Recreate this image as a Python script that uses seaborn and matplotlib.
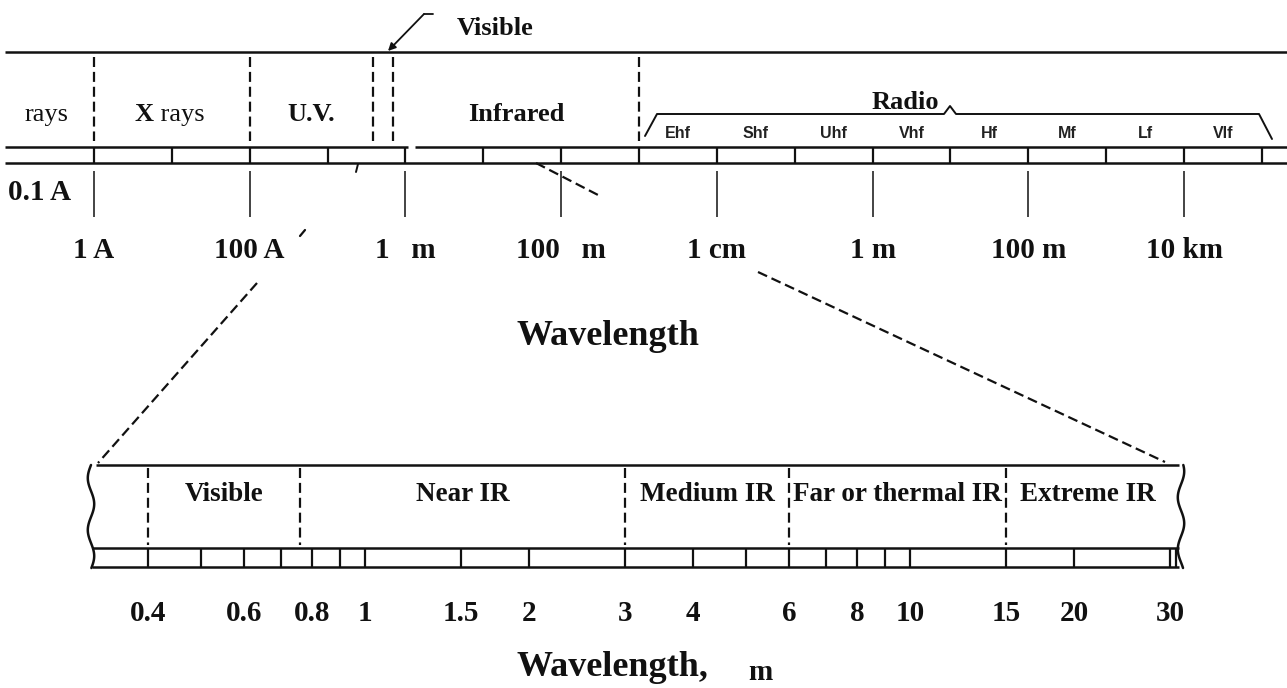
import numpy as np
import matplotlib
matplotlib.use("Agg")
import matplotlib.pyplot as plt
import seaborn as sns

# ---------------- data ----------------
top_regions = ["rays", "X rays", "U.V.", "Infrared"]
top_region_bounds_m = [1e-10, 1e-8, 3.8e-7, 7e-7, 1e-3]
radio_bands = ["Ehf", "Shf", "Uhf", "Vhf", "Hf", "Mf", "Lf", "Vlf"]
radio_band_edges_m = [1e-3, 1e-2, 1e-1, 1.0, 10.0, 100.0, 1e3, 1e4, 1e5]
top_divisions_m = [1e-10, 1e-9, 1e-8, 1e-7, 1e-6, 1e-5, 1e-4, 1e-3,
                   1e-2, 1e-1, 1.0, 10.0, 100.0, 1e3, 1e4, 1e5]
top_tick_values_m = [1e-10, 1e-8, 1e-6, 1e-4, 1e-2, 1.0, 100.0, 1e4]
top_tick_labels = ["1 A", "100 A", "1   m", "100   m", "1 cm", "1 m", "100 m", "10 km"]

ir_regions = ["Visible", "Near IR", "Medium IR", "Far or thermal IR", "Extreme IR"]
ir_region_bounds_um = [0.4, 0.76, 3.0, 6.0, 15.0, 30.0]
ir_divisions_um = [0.4, 0.5, 0.6, 0.7, 0.8, 0.9, 1.0, 1.5, 2.0, 3.0, 4.0, 5.0,
                   6.0, 7.0, 8.0, 9.0, 10.0, 15.0, 20.0, 30.0]
ir_tick_values_um = [0.4, 0.6, 0.8, 1.0, 1.5, 2.0, 3.0, 4.0, 6.0, 8.0, 10.0, 15.0, 20.0, 30.0]
ir_tick_labels = ["0.4", "0.6", "0.8", "1", "1.5", "2", "3", "4", "6", "8", "10", "15", "20", "30"]

# ---------------- style ----------------
sns.set_theme(style="white")
SERIF = ["Liberation Serif", "DejaVu Serif"]
SANS = ["Liberation Sans", "DejaVu Sans"]
plt.rcParams["font.family"] = SERIF
INK = "#111111"
DASH = (0, (4.5, 2.2))

W, H = 1287, 688
fig = plt.figure(figsize=(W / 100, H / 100), dpi=100)
fig.patch.set_facecolor("white")


def top_lam(px):
    return 10.0 ** ((px - 94.0) / 77.86 - 10.0)


def bot_um(px):
    return 10.0 ** ((px - 365.0) / 545.0)


def add_axes_px(x0, y0, x1, y1):
    a = fig.add_axes([x0 / W, 1 - y1 / H, (x1 - x0) / W, (y1 - y0) / H])
    a.set_xscale("log")
    a.axis("off")
    return a


# main axes (log wavelength in x, pixel rows in y)
ax = add_axes_px(0, 0, W, H)
ax.set_xlim(top_lam(0), top_lam(W))
ax.set_ylim(H, 0)
axb = add_axes_px(0, 0, W, H)
axb.set_xlim(bot_um(0), bot_um(W))
axb.set_ylim(H, 0)

# ================= TOP SPECTRUM =================
ax.hlines(52, top_lam(5), top_lam(W), color=INK, lw=1.8)
ax.hlines(147, top_lam(5), top_lam(408), color=INK, lw=1.8)
ax.hlines(147, top_lam(415), top_lam(W), color=INK, lw=1.8)
ax.hlines(163, top_lam(5), top_lam(W), color=INK, lw=1.8)

ts = add_axes_px(5, 147, W, 163)
ts.set_xlim(top_lam(5), top_lam(W))
ts.set_ylim(0, 1)
sns.rugplot(x=top_divisions_m, height=1.0, ax=ts, color=INK, linewidth=1.6,
            expand_margins=False)

# region boundaries
ax.vlines(top_region_bounds_m, 57, 141, color=INK, lw=1.6, linestyles=DASH)

# region labels (centred between the boundaries)
lows = [top_lam(0), top_region_bounds_m[0], top_region_bounds_m[1], top_region_bounds_m[3]]
highs = [top_region_bounds_m[0], top_region_bounds_m[1], top_region_bounds_m[2], top_region_bounds_m[4]]
label_pos = [np.sqrt(lo * hi) for lo, hi in zip(lows, highs)]

ax.text(label_pos[0], 121, top_regions[0], ha="center", va="baseline",
        fontsize=19, fontweight="normal", color=INK)
ax.annotate("X", xy=(label_pos[1], 121), xytext=(-13, 0), textcoords="offset points",
            ha="right", va="baseline", fontsize=19, fontweight="bold", color=INK)
ax.annotate(" rays", xy=(label_pos[1], 121), xytext=(-13, 0), textcoords="offset points",
            ha="left", va="baseline", fontsize=19, fontweight="normal", color=INK)
ax.text(label_pos[2], 121, top_regions[2], ha="center", va="baseline",
        fontsize=19, fontweight="bold", color=INK)
ax.text(label_pos[3], 121, top_regions[3], ha="center", va="baseline",
        fontsize=19, fontweight="bold", color=INK)

# Visible pointer
ax.plot([top_lam(433), top_lam(424)], [14, 14], color=INK, lw=1.3)
ax.annotate("", xy=(top_lam(388), 51), xytext=(top_lam(424), 14),
            arrowprops=dict(arrowstyle="-|>", color=INK, lw=1.3, mutation_scale=11,
                            shrinkA=0, shrinkB=0))
ax.text(top_lam(495), 35, "Visible", ha="center", va="baseline",
        fontsize=19, fontweight="bold", color=INK)

# Radio bracket
bx = [645, 657, 944, 950, 956, 1259, 1272]
by = [136, 114, 114, 106, 114, 114, 139]
ax.plot([top_lam(p) for p in bx], by, color=INK, lw=1.4)
ax.text(top_lam(905), 109, "Radio", ha="center", va="baseline",
        fontsize=19, fontweight="bold", color=INK)

for i, band in enumerate(radio_bands):
    xc = np.sqrt(radio_band_edges_m[i] * radio_band_edges_m[i + 1])
    ax.text(xc, 138, band, ha="center", va="baseline", fontsize=11.5,
            fontweight="bold", family=SANS, color="#222222")

# small hook under the strip
ax.plot([top_lam(358), top_lam(356)], [164, 172], color=INK, lw=1.4)

# scale ticks
ax.vlines(top_tick_values_m, 171, 217, color=INK, lw=1.1)
for v, lab in zip(top_tick_values_m, top_tick_labels):
    ax.text(v, 258, lab, ha="center", va="baseline", fontsize=21,
            fontweight="bold", color=INK)
ax.text(top_lam(8), 200, "0.1 A", ha="left", va="baseline", fontsize=21,
        fontweight="bold", color=INK)

# small dashed pointer near 100 um
ax.plot([top_lam(536), top_lam(600)], [163, 196], color=INK, lw=1.6, linestyle=DASH)

ax.text(top_lam(608), 345, "Wavelength", ha="center", va="baseline", fontsize=26,
        fontweight="bold", color=INK)

# zoom lines
ax.plot([top_lam(300), top_lam(305)], [236, 230], color=INK, lw=1.6)
ax.plot([top_lam(257), top_lam(98)], [283, 463], color=INK, lw=1.6, linestyle=DASH)
ax.plot([top_lam(758), top_lam(1165)], [272, 462], color=INK, lw=1.6, linestyle=DASH)

# ================= BOTTOM (IR) SPECTRUM =================
axb.hlines(465, bot_um(96), bot_um(1179), color=INK, lw=1.8)
axb.hlines(548, bot_um(92), bot_um(1179), color=INK, lw=1.8)
axb.hlines(567, bot_um(92), bot_um(1179), color=INK, lw=1.8)

bs = add_axes_px(90, 548, 1182, 567)
bs.set_xlim(bot_um(90), bot_um(1182))
bs.set_ylim(0, 1)
sns.rugplot(x=ir_divisions_um, height=1.0, ax=bs, color=INK, linewidth=1.6,
            expand_margins=False)
axb.vlines(bot_um(1176), 548, 567, color=INK, lw=1.6)

# wavy break edges
yy = np.linspace(465, 568, 120)
axb.plot(bot_um(91 - 3.2 * np.sin(2 * np.pi * (yy - 465) / 52.0)), yy, color=INK, lw=1.8)
axb.plot(bot_um(1181 + 3.2 * np.sin(2 * np.pi * (yy - 465) / 52.0 + 0.8)), yy, color=INK, lw=1.8)

axb.vlines(ir_region_bounds_um[:-1], 468, 545, color=INK, lw=1.6, linestyles=DASH)
for i, name in enumerate(ir_regions):
    xc = np.sqrt(ir_region_bounds_um[i] * ir_region_bounds_um[i + 1])
    axb.text(xc, 501, name, ha="center", va="baseline", fontsize=19.5,
             fontweight="bold", color=INK)

for v, lab in zip(ir_tick_values_um, ir_tick_labels):
    axb.text(v, 621, lab, ha="center", va="baseline", fontsize=21,
             fontweight="bold", color=INK)

axb.text(bot_um(612), 676, "Wavelength,", ha="center", va="baseline", fontsize=26,
         fontweight="bold", color=INK)
axb.text(bot_um(760), 680, "m", ha="center", va="baseline", fontsize=21,
         fontweight="bold", color=INK)

fig.savefig("out.png", dpi=100, facecolor="white")
